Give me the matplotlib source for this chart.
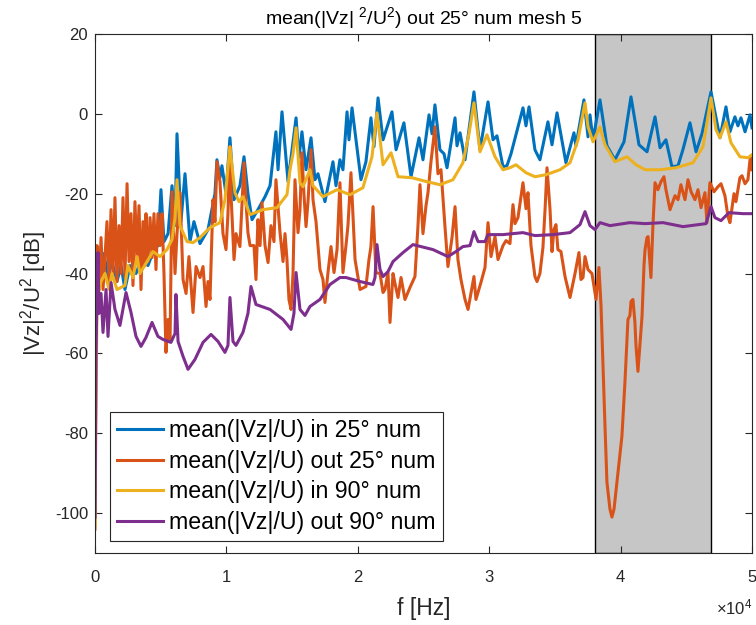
import matplotlib
matplotlib.use("Agg")
import matplotlib.pyplot as plt
from matplotlib.patches import Rectangle

plt.rcParams['font.family'] = ['Liberation Sans', 'DejaVu Sans']
plt.rcParams['mathtext.fontset'] = 'custom'
plt.rcParams['mathtext.rm'] = 'Liberation Sans'
plt.rcParams['mathtext.it'] = 'Liberation Sans'
plt.rcParams['axes.unicode_minus'] = False

# (frequency in kHz, level in dB)
in25 = [(0, -100), (0.08, -34), (0.38, -40), (0.68, -35), (0.99, -41), (1.29, -37), (1.67, -42),
        (1.98, -38), (2.28, -44), (2.66, -38), (3.12, -40), (3.58, -36), (4.03, -38), (4.49, -34),
        (4.79, -33), (5.02, -19), (5.25, -32), (5.56, -30), (5.86, -18), (6.09, -28), (6.24, -5),
        (6.54, -27), (6.85, -15), (7.23, -32), (7.53, -27), (7.99, -32.5), (8.60, -29), (9.13, -20),
        (9.28, -11.5), (9.51, -16), (9.66, -13), (9.97, -20), (10.27, -6), (10.58, -21.5),
        (11.03, -18), (11.34, -10.75), (11.64, -20), (11.95, -26.5), (12.40, -24), (12.94, -20.75),
        (13.32, -18), (13.77, -4.5), (13.93, -14), (14.23, 0.5), (14.69, -17), (15.30, -1),
        (15.52, -11), (15.75, -4.5), (16.06, -14), (16.44, -6), (16.74, -16.5), (16.97, -15),
        (17.50, -22), (18.11, -12), (18.34, -18), (18.64, -11.5), (18.87, -14), (19.18, 0.5),
        (19.33, -6.5), (19.56, 1.5), (20.24, -16.5), (20.62, -12), (21.00, -1), (21.23, -8.25),
        (21.54, 4), (21.92, -6.5), (22.60, 0.5), (22.91, -9), (23.51, -2.25), (24.05, -15.75),
        (24.66, -6), (24.96, -11.5), (25.42, -0.25), (25.65, -5), (25.87, 2.25), (26.25, -9),
        (26.56, -10), (26.79, -13.5), (27.40, -1), (27.55, -8), (27.78, -4.75), (28.16, -11.5),
        (28.84, 5.5), (29.30, -9), (29.91, 3), (30.29, -6.5), (30.59, -5.5), (31.05, -13.25),
        (31.35, -13), (31.66, -10), (32.57, 1.5), (32.80, -3), (33.03, 1.75), (33.48, -9),
        (33.86, -11.5), (34.47, -2), (34.78, -7.75), (35.16, 0.25), (35.84, -12.25), (36.45, -4.75),
        (36.60, -8), (37.21, 3.5), (37.52, -5.75), (37.67, -0.25), (37.90, -6.5), (38.43, 3.5),
        (38.96, -8), (39.57, -11.5), (40.26, -7), (40.79, 4.25), (41.40, -7.75), (42.01, -9.5),
        (42.62, -0.75), (43.00, -8.5), (43.45, -6.5), (43.91, -13.25), (44.37, -13), (44.74, -9),
        (45.28, -2.25), (45.74, -9.5), (46.19, -5), (46.88, 5.5), (47.56, -6), (48.02, 1.75),
        (48.32, -4.5), (48.70, -0.75), (48.93, -3), (49.16, -1), (49.47, -4.5), (49.85, -0.25),
        (50.00, -3.5)]

out25 = [(0, -104), (0.08, -45), (0.15, -33), (0.30, -44), (0.46, -31), (0.61, -44), (0.76, -36),
         (0.91, -27), (1.07, -42), (1.22, -24), (1.37, -40), (1.52, -21), (1.67, -42), (1.83, -28),
         (1.98, -40), (2.13, -21), (2.28, -41), (2.44, -17.5), (2.59, -37), (2.74, -25), (2.89, -43),
         (3.04, -22), (3.20, -36), (3.35, -23), (3.50, -44), (3.65, -27), (3.81, -38), (3.88, -25),
         (4.03, -37), (4.19, -26), (4.34, -36), (4.49, -25), (4.64, -39), (4.79, -25), (4.95, -33),
         (5.10, -25), (5.25, -40), (5.40, -59.75), (5.56, -51.5), (5.71, -57), (5.86, -19.5),
         (6.09, -40), (6.24, -30), (6.47, -19.75), (6.70, -41.5), (6.93, -45), (7.15, -35.75),
         (7.46, -49.75), (7.69, -38.25), (7.99, -41), (8.22, -38.25), (8.45, -48.25), (8.60, -42),
         (8.75, -46.5), (8.98, -21.5), (9.13, -27), (9.28, -12), (9.51, -17), (9.74, -30),
         (9.97, -34), (10.12, -25), (10.27, -8.25), (10.35, -20), (10.58, -36.5), (10.73, -30),
         (11.03, -33.25), (11.34, -12.25), (11.49, -22), (11.64, -29.75), (11.80, -33),
         (12.10, -33), (12.25, -41.5), (12.40, -26.5), (12.56, -33), (12.71, -22.25), (12.94, -33),
         (13.17, -37.25), (13.39, -28), (13.62, -32), (13.77, -16.5), (14.08, -29.75), (14.31, -37),
         (14.46, -30), (14.61, -36.5), (14.76, -46.5), (14.92, -49), (15.07, -40), (15.22, -16.5),
         (15.45, -29.75), (15.60, -24), (15.75, -9.75), (15.90, -20), (16.06, -28.25), (16.21, -22),
         (16.44, -9), (16.59, -21.5), (16.82, -27), (17.12, -39), (17.35, -41.5), (17.50, -47.25),
         (17.73, -39.75), (17.96, -33.25), (18.19, -39.75), (18.42, -34), (18.64, -17.25),
         (18.87, -39.75), (19.10, -33), (19.25, -28), (19.48, -14.75), (19.79, -36.5), (20.17, -44),
         (20.62, -43.25), (20.85, -36.5), (21.00, -33.25), (21.16, -23.25), (21.38, -39.75),
         (21.69, -40), (21.92, -44.75), (22.07, -44), (22.30, -39.75), (22.45, -52.25), (22.68, -40),
         (22.83, -42.5), (23.06, -46), (23.29, -41), (23.59, -46.5), (23.97, -43.5), (24.35, -40.75),
         (24.58, -28), (24.73, -17.75), (24.96, -30), (25.19, -23), (25.34, -19.75), (25.57, -12),
         (25.87, -3.25), (26.10, -15), (26.33, -14), (26.64, -28.5), (26.86, -38.25), (27.17, -31),
         (27.40, -23.25), (27.62, -36.5), (27.85, -41.5), (28.16, -46.5), (28.39, -49), (28.61, -45),
         (28.84, -40.75), (28.99, -46.5), (29.37, -42.25), (29.68, -38.5), (29.91, -27.25),
         (30.14, -35.75), (30.44, -30.75), (30.67, -36.5), (31.05, -33), (31.28, -31.75),
         (31.58, -32.5), (31.81, -22.75), (31.96, -27.5), (32.19, -26), (32.57, -17.25),
         (32.80, -23.75), (32.95, -19.75), (33.18, -33), (33.48, -40.75), (33.64, -42), (33.86, -40),
         (34.09, -33.5), (34.25, -24), (34.40, -13.5), (34.63, -24), (34.78, -34.5), (34.93, -29),
         (35.08, -27.75), (35.23, -34), (35.46, -34.5), (35.77, -40.75), (36.15, -46), (36.53, -40),
         (36.83, -34.75), (36.98, -41.5), (37.14, -41), (37.29, -35.75), (37.52, -39), (37.82, -40),
         (38.13, -46.5), (38.35, -38.5), (38.51, -48), (38.66, -63.25), (38.81, -78),
         (38.96, -92.25), (39.19, -99), (39.34, -101), (39.50, -99), (39.72, -92.25),
         (40.10, -80.75), (40.33, -67.25), (40.56, -51.5), (40.71, -50.5), (40.79, -47),
         (40.94, -46.5), (41.09, -52.25), (41.17, -58), (41.32, -64.5), (41.47, -58),
         (41.63, -50.75), (41.78, -38), (41.86, -34), (42.01, -31), (42.09, -30.75), (42.24, -38),
         (42.31, -41), (42.46, -28), (42.62, -17.25), (42.84, -19), (43.07, -17), (43.30, -15.75),
         (43.45, -19), (43.76, -24), (44.14, -20.5), (44.37, -21.5), (44.59, -17.75), (44.90, -21.5),
         (45.13, -16.5), (45.36, -19.5), (45.66, -21.5), (45.89, -19), (46.12, -23.5),
         (46.42, -19.75), (46.57, -27.25), (46.80, -17.25), (47.11, -19.5), (47.41, -18.25),
         (47.64, -17.5), (47.94, -20.5), (48.17, -25.75), (48.32, -27.25), (48.63, -20),
         (48.78, -22), (49.08, -16), (49.24, -15.5), (49.47, -17.5), (49.69, -16.5), (49.85, -11.5),
         (49.92, -10.5), (50.00, -14)]

in90 = [(0, -103), (0.15, -46.5), (0.46, -42), (0.76, -40), (1.07, -44), (1.29, -40), (1.67, -44),
        (2.28, -43), (2.51, -38), (2.89, -41), (3.20, -35.75), (3.42, -40), (3.96, -37),
        (4.41, -34.5), (4.95, -35.75), (5.48, -34), (5.86, -31.5), (6.09, -26), (6.24, -16.5),
        (6.47, -28), (7.00, -32), (7.46, -32.25), (7.99, -31), (8.75, -28.5), (9.51, -27.25),
        (9.89, -21.5), (10.27, -8.25), (10.65, -19.75), (10.96, -22), (11.26, -20.75),
        (11.80, -25.25), (12.78, -24), (13.85, -23.5), (14.61, -20.25), (14.84, -14), (15.07, -10),
        (15.30, -3.5), (15.60, -17.25), (15.83, -18.25), (16.36, -14), (16.59, -18), (17.35, -20.75),
        (18.42, -19), (19.41, -20.25), (20.39, -18.5), (21.08, -10.75), (21.46, 0.25),
        (21.92, -12.75), (22.53, -9.75), (23.06, -15.75), (24.12, -16), (25.27, -17),
        (26.25, -17.75), (27.24, -16.5), (28.00, -12.25), (28.46, -5), (28.84, 2.75), (29.30, -9.5),
        (29.83, -5.25), (30.44, -10.75), (31.05, -14), (31.58, -13.5), (32.04, -12.75),
        (32.80, -14.75), (33.48, -15.75), (34.32, -15.25), (35.39, -14), (36.15, -12.25),
        (36.76, -6.5), (37.29, 2.75), (37.52, -3.25), (37.90, -7), (38.43, -3.25), (38.81, -7.75),
        (39.57, -12), (40.49, -10.75), (41.17, -12.75), (41.86, -14), (43.00, -14), (44.22, -13.5),
        (45.51, -12.25), (46.27, -8.25), (46.88, 4), (47.26, -4), (47.56, -6), (48.02, -2),
        (48.40, -7.25), (49.08, -10.75), (49.69, -11), (50.00, -10.25)]

out90 = [(0, -101), (0.08, -60), (0.15, -46), (0.23, -34.75), (0.30, -50), (0.46, -45),
         (0.61, -54.75), (0.84, -44), (0.99, -55.75), (1.22, -42.25), (1.52, -49), (1.90, -53),
         (2.36, -44.75), (2.74, -49.75), (3.12, -55.75), (3.50, -58.25), (3.88, -56), (4.34, -52.25),
         (4.79, -55.75), (5.17, -56.5), (5.78, -57.25), (6.09, -55), (6.16, -45.25), (6.32, -57),
         (6.70, -60.75), (7.08, -64), (7.61, -61.5), (8.22, -57.25), (8.83, -55.25), (9.36, -57),
         (9.89, -59.75), (10.12, -58), (10.27, -46), (10.50, -57), (10.73, -58), (11.26, -54.75),
         (11.64, -50), (11.87, -43.25), (12.25, -47.75), (13.32, -49), (14.31, -51.5), (14.92, -54),
         (15.14, -50), (15.30, -39.75), (15.60, -49), (15.98, -50.5), (16.36, -48.25),
         (17.12, -46.5), (17.88, -42.75), (18.64, -41), (19.10, -41), (20.17, -42), (21.15, -42.75),
         (21.31, -41), (21.46, -32.75), (21.69, -39), (21.92, -40.75), (22.30, -39.5), (22.68, -37),
         (23.44, -34.75), (24.20, -32.75), (25.11, -33.5), (25.72, -34), (26.86, -35.75),
         (27.47, -34.5), (28.00, -33.25), (28.54, -33), (28.84, -29.5), (29.15, -32), (29.68, -32),
         (29.91, -30.25), (31.05, -30.25), (32.57, -29.75), (33.48, -30.5), (34.85, -30.25),
         (36.15, -29.75), (36.91, -27.75), (37.29, -24.5), (37.67, -28), (38.05, -29),
         (38.43, -27.25), (39.19, -28), (40.71, -27.25), (41.86, -27.5), (43.22, -27.25),
         (44.75, -28.25), (46.50, -27.5), (46.88, -23.25), (47.18, -26), (47.64, -26.75),
         (48.25, -24.75), (49.31, -25), (50.00, -25)]

series = [
    (in25, '#0072BD', 'mean(|Vz|/U) in 25° num'),
    (out25, '#D95319', 'mean(|Vz|/U) out 25° num'),
    (in90, '#EDB120', 'mean(|Vz|/U) in 90° num'),
    (out90, '#7E2F8E', 'mean(|Vz|/U) out 90° num'),
]

band = (38.05, 46.88)  # kHz, shaded region
xticks = [0, 1, 2, 3, 4, 5]
yticks = [-100, -80, -60, -40, -20, 0, 20]
txt = '#262626'

fig = plt.figure(figsize=(7.56, 6.25), dpi=100)
ax = fig.add_axes([95 / 756, 72 / 625, 657 / 756, 519 / 625])

ax.add_patch(Rectangle((band[0] * 1000, -110), (band[1] - band[0]) * 1000, 130,
                       facecolor='#c6c6c6', edgecolor='black', linewidth=1.0, zorder=1))

for data, col, lab in series:
    f = [p[0] * 1000 for p in data]
    db = [p[1] for p in data]
    ax.plot(f, db, color=col, linewidth=2.2, label=lab, zorder=3)

ax.set_xlim(0, 5e4)
ax.set_ylim(-110, 20)
ax.set_xticks([t * 1e4 for t in xticks])
ax.set_xticklabels([str(t) for t in xticks])
ax.set_yticks(yticks)
ax.tick_params(direction='in', length=5, width=0.8, top=True, right=True,
               labelsize=12, colors=txt)
ax.tick_params(axis='x', pad=12)
ax.tick_params(axis='y', pad=5)
for s in ax.spines.values():
    s.set_color(txt)
    s.set_linewidth(0.8)
    s.set_zorder(4)

ax.set_xlabel('f [Hz]', fontsize=16.5, color=txt, labelpad=9)
ax.set_ylabel('|Vz|$^{2}$/U$^{2}$ [dB]', fontsize=16, color=txt, labelpad=4)
ax.set_title('mean(|Vz| $^{2}$/U$^{2}$) out 25° num mesh 5', fontsize=14, color='black', pad=7)
ax.text(1.0, -0.085, r'$\times$10$^{4}$', transform=ax.transAxes, ha='right', va='top',
        fontsize=12, color=txt)

leg = ax.legend(loc='lower left', bbox_to_anchor=(0.0228, 0.023), borderaxespad=0,
                fontsize=16.7, frameon=True, fancybox=False, framealpha=1, edgecolor=txt,
                handlelength=2.0, borderpad=0.3, labelspacing=0.33, handletextpad=0.25)
leg.get_frame().set_linewidth(0.8)
leg.set_zorder(5)

fig.savefig('out.png', dpi=100)
